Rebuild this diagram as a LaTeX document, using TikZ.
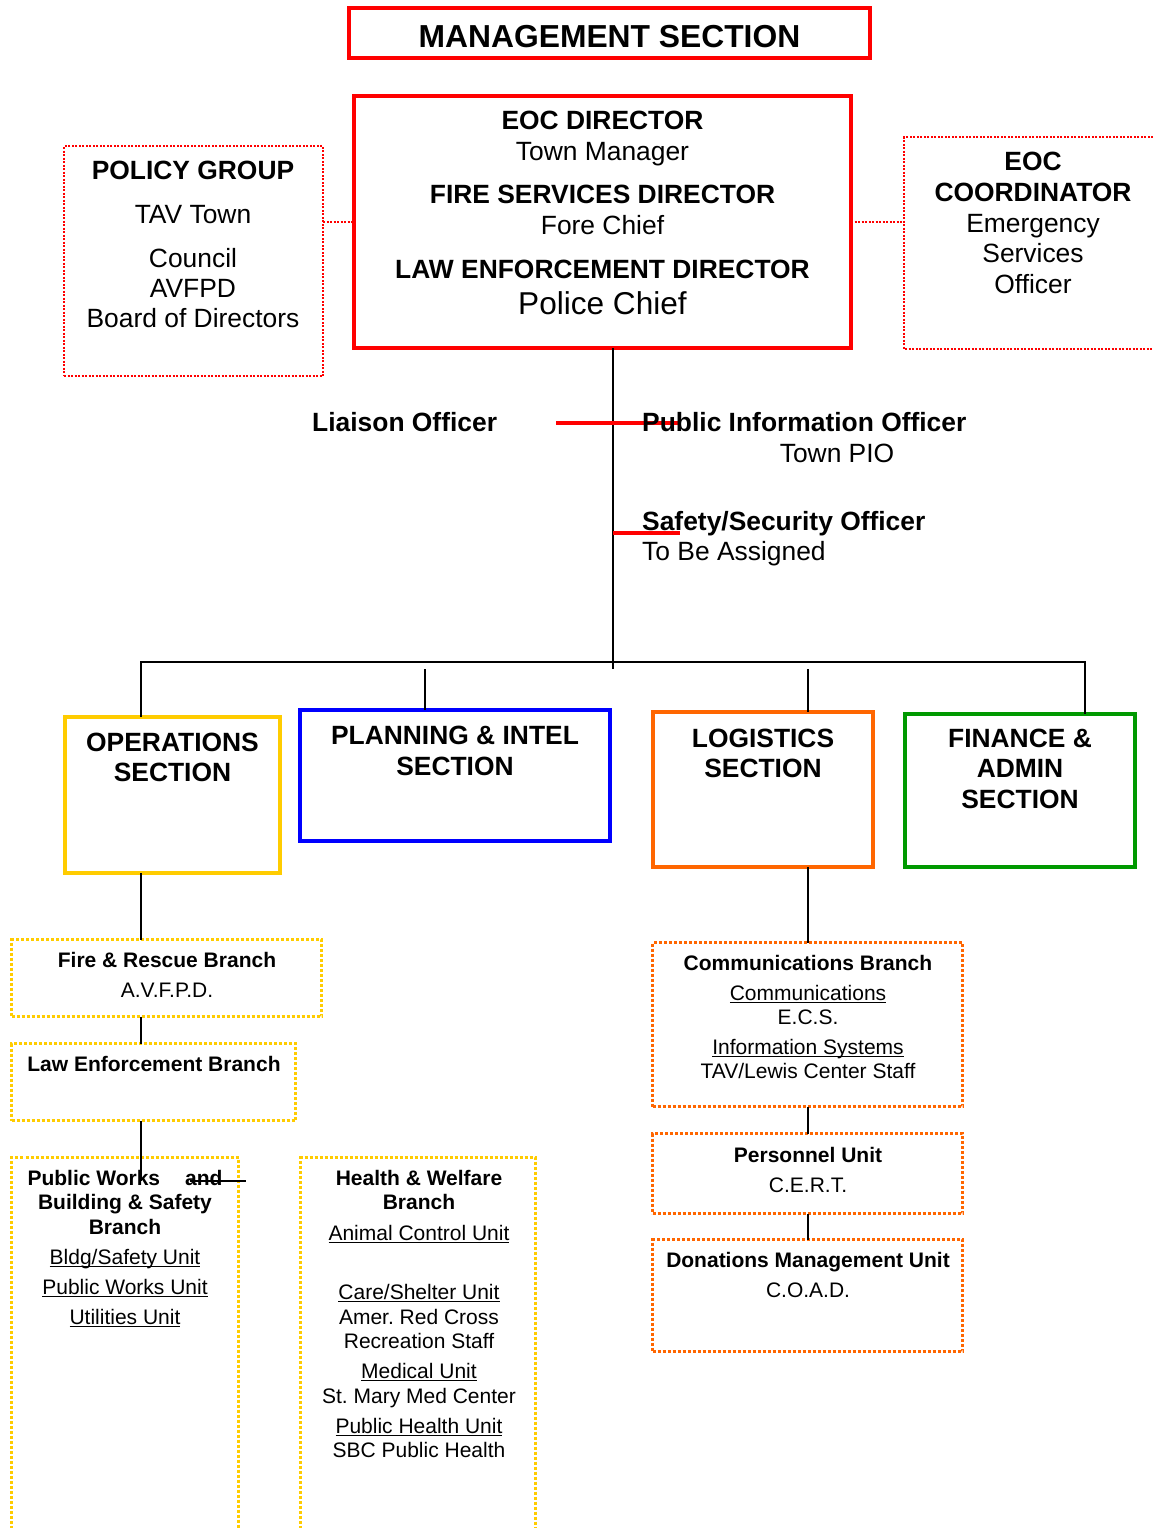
\documentclass[tikz,border=0pt]{standalone}
\usepackage{fontspec}
\setmainfont{Liberation Sans}
\frenchspacing
\newcommand\ulx[1]{\setbox0\hbox{#1}\rlap{\rule[-3pt]{\wd0}{1.4pt}}\box0}
\definecolor{myred}{HTML}{FF0000}
\definecolor{myyellow}{HTML}{FFCC00}
\definecolor{myblue}{HTML}{0000FF}
\definecolor{myorange}{HTML}{FF6600}
\definecolor{mygreen}{HTML}{009900}
\begin{document}
\begin{tikzpicture}[x=1pt,y=-1pt,
  box/.style={inner sep=0pt, outer sep=0pt, anchor=north west},
  solidbox/.style={box, draw, line width=4pt},
  rdot/.style={draw=myred, line width=2pt, dash pattern=on 2pt off 1.5pt},
  ydot/.style={draw=myyellow, line width=3pt, dash pattern=on 3pt off 2pt},
  odot/.style={draw=myorange, line width=3pt, dash pattern=on 3pt off 2pt},
  conn/.style={draw=black, line width=1.6pt},
  redline/.style={draw=myred, line width=3.5pt},
  tx/.style={anchor=base, inner sep=0pt, font=\fontsize{26.4}{30}\selectfont},
  txb/.style={anchor=base, inner sep=0pt, font=\fontsize{26.4}{30}\selectfont\bfseries},
  sm/.style={anchor=base, inner sep=0pt, font=\fontsize{21}{24}\selectfont},
  smb/.style={anchor=base, inner sep=0pt, font=\fontsize{21}{24}\selectfont\bfseries}]
\fill[white] (0,0) rectangle (1153,1528);
\useasboundingbox (0,0) rectangle (1153,1528);

% ---------- boxes ----------
\node[solidbox, draw=myred, line width=3.5pt, minimum width=521, minimum height=50] (mgmt) at (349,8) {};
\node[solidbox, draw=myred, minimum width=497, minimum height=252] (eoc) at (354,96) {};
\node[box, rdot, minimum width=259, minimum height=230] (policy) at (64,146) {};
\node[box, minimum width=249, minimum height=212] (coord) at (904,137) {};
\draw[rdot] (coord.north east) -| (coord.south west) -- (coord.south east);

\node[solidbox, draw=myyellow, minimum width=215, minimum height=156] (ops) at (65,717) {};
\node[solidbox, draw=myblue, minimum width=310, minimum height=131] (plan) at (300,710) {};
\node[solidbox, draw=myorange, minimum width=220, minimum height=155] (logi) at (653,712) {};
\node[solidbox, draw=mygreen, minimum width=230, minimum height=153] (fin) at (905,714) {};

\node[box, ydot, minimum width=310, minimum height=77] (fire) at (11.5,939.5) {};
\node[box, ydot, minimum width=284, minimum height=77] (law) at (11.5,1043.5) {};
\node[box, minimum width=227, minimum height=371] (pw) at (11.5,1157.5) {};
\draw[ydot] (pw.south west) |- (pw.north east) -- (pw.south east);
\node[box, minimum width=235, minimum height=371] (hw) at (300.5,1157.5) {};
\draw[ydot] (hw.south west) |- (hw.north east) -- (hw.south east);

\node[box, odot, minimum width=310, minimum height=164] (comm) at (652.5,942.5) {};
\node[box, odot, minimum width=310, minimum height=80] (pers) at (652.5,1133.5) {};
\node[box, odot, minimum width=310, minimum height=112] (don) at (652.5,1239.5) {};

% ---------- coordinates ----------
\coordinate (trunk) at (613,669);
\coordinate (busL) at (141,662);
\coordinate (busR) at (1085,662);
\coordinate (pd) at (425,669);
\coordinate (ld) at (808,669);
\coordinate (pwj) at (141,1181);
\coordinate (andL) at (190,1181);
\coordinate (andR) at (246,1181);
\coordinate (liaL) at (556,423);
\coordinate (liaR) at (678,423);
\coordinate (safL) at (613,533);
\coordinate (safR) at (680,533);

% ---------- connectors ----------
\draw[rdot] (policy.east |- eoc.west) -- (eoc.west);
\draw[rdot] (eoc.east) -- (eoc.east -| coord.west);
\draw[conn] (eoc.south -| trunk) -- (trunk);
\draw[conn] (ops.north -| busL) -- (busL) -- (busR) -- (fin.north -| busR);
\draw[conn] (pd) -- (plan.north -| pd);
\draw[conn] (ld) -- (logi.north -| ld);
\draw[conn] (ops.south -| busL) -- (fire.north -| busL);
\draw[conn] (fire.south -| busL) -- (law.north -| busL);
\draw[conn] (law.south -| busL) -- (pwj);
\draw[conn] (andL) -- (andR);
\draw[conn] (logi.south -| ld) -- (comm.north -| ld);
\draw[conn] (comm.south -| ld) -- (pers.north -| ld);
\draw[conn] (pers.south -| ld) -- (don.north -| ld);
\draw[redline] (liaL) -- (liaR);
\draw[redline] (safL) -- (safR);

% ---------- texts ----------
\node[anchor=base, inner sep=0pt, font=\fontsize{31.8}{34}\selectfont\bfseries] (mg1) at (609.5,47.5) {MANAGEMENT SECTION};

\node[txb] (e1) at (602.5,129) {EOC DIRECTOR};
\node[tx]  (e2) at (602.5,160) {Town Manager};
\node[txb] (e3) at (602.5,203) {FIRE SERVICES DIRECTOR};
\node[tx]  (e4) at (602.5,234) {Fore Chief};
\node[txb] (e5) at (602.5,278) {LAW ENFORCEMENT DIRECTOR};
\node[anchor=base, inner sep=0pt, font=\fontsize{31.6}{34}\selectfont] (e6) at (602.5,314) {Police Chief};

\node[txb] (p1) at (193,179) {POLICY GROUP};
\node[tx]  (p2) at (193,223) {TAV Town};
\node[tx]  (p3) at (193,267) {Council};
\node[tx]  (p4) at (193,297) {AVFPD};
\node[tx]  (p5) at (193,327) {Board of Directors};

\node[txb] (c1) at (1033,170) {EOC};
\node[txb] (c2) at (1033,201) {COORDINATOR};
\node[tx]  (c3) at (1033,232) {Emergency};
\node[tx]  (c4) at (1033,262) {Services};
\node[tx]  (c5) at (1033,293) {Officer};

\node[txb, anchor=base west] (lia) at (312,431) {Liaison Officer};
\node[txb, anchor=base west] (pio) at (642,431) {Public Information Officer};
\node[tx] (pio2) at (837,462) {Town PIO};
\node[txb, anchor=base west] (saf) at (642,530) {Safety/Security Officer};
\node[tx, anchor=base west] (saf2) at (642,560) {To Be Assigned};

\node[txb] (o1) at (172.5,751) {OPERATIONS};
\node[txb] (o2) at (172.5,781) {SECTION};
\node[txb] (pl1) at (455,744) {PLANNING \& INTEL};
\node[txb] (pl2) at (455,775) {SECTION};
\node[txb] (l1) at (763,747) {LOGISTICS};
\node[txb] (l2) at (763,777) {SECTION};
\node[txb] (f1) at (1020,747) {FINANCE \&};
\node[txb] (f2) at (1020,777) {ADMIN};
\node[txb] (f3) at (1020,808) {SECTION};

\node[smb] (fr1) at (167,967) {Fire \& Rescue Branch};
\node[sm]  (fr2) at (167,997) {A.V.F.P.D.};
\node[smb] (le1) at (154,1071) {Law Enforcement Branch};

\node[smb] (pw1) at (125,1185) {Public Works\hspace{25pt}and};
\node[smb] (pw2) at (125,1209) {Building \& Safety};
\node[smb] (pw3) at (125,1234) {Branch};
\node[sm]  (pw4) at (125,1264) {\ulx{Bldg/Safety Unit}};
\node[sm]  (pw5) at (125,1294) {\ulx{Public Works Unit}};
\node[sm]  (pw6) at (125,1324) {\ulx{Utilities Unit}};

\node[smb] (hw1) at (419,1185) {Health \& Welfare};
\node[smb] (hw2) at (419,1209) {Branch};
\node[sm]  (hw3) at (419,1240) {\ulx{Animal Control Unit}};
\node[sm]  (hw4) at (419,1299) {\ulx{Care/Shelter Unit}};
\node[sm]  (hw5) at (419,1324) {Amer. Red Cross};
\node[sm]  (hw6) at (419,1348) {Recreation Staff};
\node[sm]  (hw7) at (419,1378) {\ulx{Medical Unit}};
\node[sm]  (hw8) at (419,1403) {St. Mary Med Center};
\node[sm]  (hw9) at (419,1433) {\ulx{Public Health Unit}};
\node[sm]  (hw10) at (419,1457) {SBC Public Health};

\node[smb] (cm1) at (808,970) {Communications Branch};
\node[sm]  (cm2) at (808,1000) {\ulx{Communications}};
\node[sm]  (cm3) at (808,1024) {E.C.S.};
\node[sm]  (cm4) at (808,1054) {\ulx{Information Systems}};
\node[sm]  (cm5) at (808,1078) {TAV/Lewis Center Staff};

\node[smb] (pu1) at (808,1162) {Personnel Unit};
\node[sm]  (pu2) at (808,1192) {C.E.R.T.};

\node[smb] (dm1) at (808,1267) {Donations Management Unit};
\node[sm]  (dm2) at (808,1297) {C.O.A.D.};
\end{tikzpicture}
\end{document}
